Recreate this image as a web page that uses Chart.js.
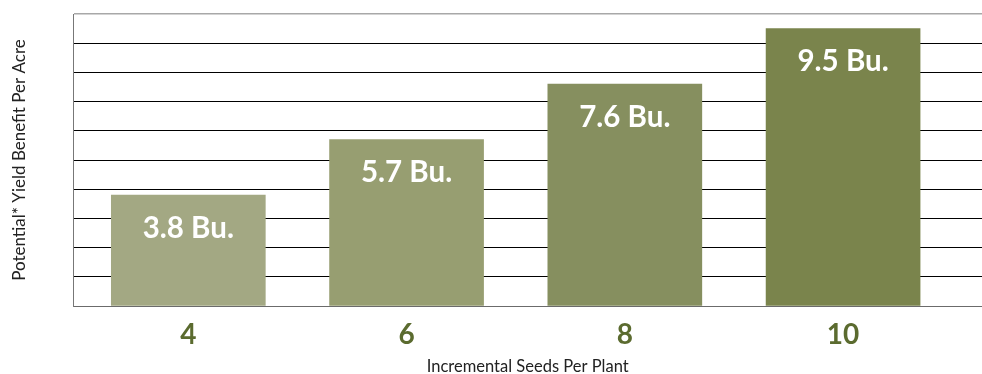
<!DOCTYPE html>
<html>
<head>
<meta charset="utf-8">
<script src="https://cdn.jsdelivr.net/npm/chart.js@4"></script>
<style>
  html, body { margin: 0; padding: 0; background: #fff; overflow: hidden; }
  #wrap { width: 982px; height: 374px; }
</style>
</head>
<body>
<div id="wrap"><canvas id="seedsChart"></canvas></div>
<script>
const seeds = [4, 6, 8, 10];
const yieldBu = [3.8, 5.7, 7.6, 9.5];
const barColors = ['#a3a883', '#979e71', '#868f5f', '#7a844c'];

// white "x.x Bu." text inside the top of each bar
const barText = {
    id: 'barText',
    afterDatasetsDraw(chart) {
        const ctx = chart.ctx;
        const meta = chart.getDatasetMeta(0);
        ctx.save();
        ctx.fillStyle = '#ffffff';
        ctx.font = 'bold 29.5px Lato';
        ctx.textAlign = 'center';
        ctx.textBaseline = 'middle';
        meta.data.forEach((bar, i) => {
            ctx.fillText(yieldBu[i].toFixed(1) + ' Bu.', bar.x, bar.y + 33);
        });
        ctx.restore();
    }
};

const data = {
    datasets: [{
        data: seeds.map((s, i) => ({ x: s, y: yieldBu[i] })),
        backgroundColor: barColors,
        barThickness: 154,
        borderWidth: 0
    }]
};

const options = {
    responsive: true,
    maintainAspectRatio: false,
    animation: false,
    layout: { padding: { top: 14, left: 9, right: 0, bottom: 0 } },
    plugins: {
        legend: { display: false },
        tooltip: { enabled: false }
    },
    scales: {
        x: {
            type: 'linear',
            offset: false,
            min: 2.947,
            max: 11.273,
            afterBuildTicks: scale => { scale.ticks = seeds.map(v => ({ value: v })); },
            afterFit: scale => { scale.height = 68; },
            grid: { display: false, drawTicks: false },
            border: { display: true, color: '#6b6b6b', width: 1 },
            ticks: {
                padding: 12,
                maxRotation: 0,
                color: '#5b6b2f',
                font: { family: 'Lato', size: 28, weight: 'bold' }
            },
            title: {
                display: true,
                text: 'Incremental Seeds Per Plant',
                color: '#222',
                font: { family: 'Lato', size: 16.5 },
                padding: { top: 0, bottom: -3 }
            }
        },
        y: {
            min: 0,
            max: 10,
            ticks: { display: false, stepSize: 1 },
            grid: {
                drawTicks: false,
                color: c => c.tick.value === 10 ? '#a8a8a8' : (c.tick.value === 0 ? '#6b6b6b' : '#000000'),
                lineWidth: c => c.tick.value === 10 ? 1.5 : 1
            },
            border: { display: true, color: '#777777', width: 1 },
            title: {
                display: true,
                text: 'Potential* Yield Benefit Per Acre',
                color: '#222',
                font: { family: 'Lato', size: 17 },
                padding: { top: 0, bottom: 44 }
            }
        }
    }
};

new Chart('seedsChart', { type: 'bar', data, options, plugins: [barText] });
</script>
</body>
</html>
